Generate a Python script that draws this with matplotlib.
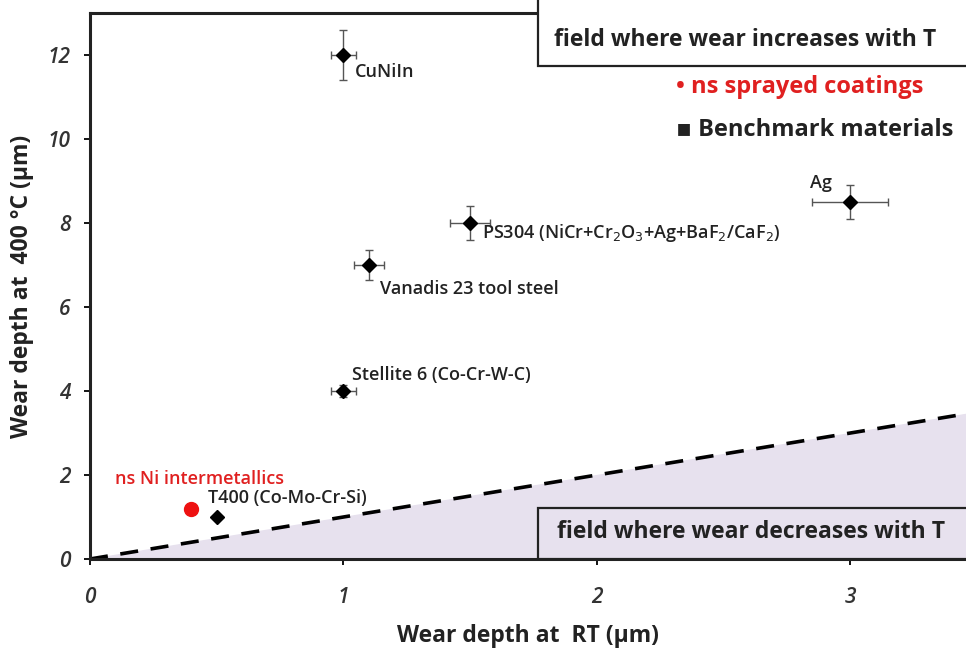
import numpy as np
import matplotlib.pyplot as plt
from matplotlib.patches import Rectangle

plt.rcParams['font.family'] = ['Open Sans', 'DejaVu Sans']

# Benchmark materials: wear depth at RT vs at 400 C (um)
names = ['CuNiIn', 'PS304 (NiCr+Cr$_2$O$_3$+Ag+BaF$_2$/CaF$_2$)', 'Ag',
         'Vanadis 23 tool steel', 'Stellite 6 (Co-Cr-W-C)', 'T400 (Co-Mo-Cr-Si)']
x_rt = [1.0, 1.5, 3.0, 1.1, 1.0, 0.5]
y_hot = [12.0, 8.0, 8.5, 7.0, 4.0, 1.0]
x_err = [0.05, 0.08, 0.15, 0.06, 0.05, 0.0]
y_err = [0.6, 0.4, 0.4, 0.35, 0.15, 0.0]

# ns sprayed coating
coat_name = 'ns Ni intermetallics'
coat_x = [0.4]
coat_y = [1.2]

W, H = 966, 650
fig = plt.figure(figsize=(W / 100, H / 100), dpi=100)
ax = fig.add_axes([90 / W, (H - 559) / H, 876 / W, 546 / H])
ax.set_xlim(0, 3.456)
ax.set_ylim(0, 13)

# equal-wear line and the region below it
xl = np.array([0, 3.456])
ax.fill_between(xl, 0, xl, color='#e7e1ee', zorder=0)
ax.plot(xl, xl, color='black', lw=2.6, ls=(0, (5, 3.5)), zorder=1)

ax.errorbar(x_rt, y_hot, xerr=x_err, yerr=y_err, fmt='D', color='black',
            ms=7.5, ecolor='#555555', elinewidth=1, capsize=3, capthick=1, zorder=3)
ax.plot(coat_x, coat_y, 'o', color='#ee1111', ms=10, zorder=3)

# point labels, offsets in points
offsets = [(8.5, -12), (8.5, -7), (-13, 13.5), (8, -17), (6.5, 11.5), (-6.5, 13.5)]
aligns = ['left', 'left', 'right', 'left', 'left', 'left']
for n, xv, yv, off, ha in zip(names, x_rt, y_hot, offsets, aligns):
    ax.annotate(n, (xv, yv), xytext=off, textcoords='offset points',
                ha=ha, va='center', fontsize=13, fontweight='semibold',
                color='#222222')
ax.annotate(coat_name, (coat_x[0], coat_y[0]), xytext=(-55, 21),
            textcoords='offset points', ha='left', va='center', fontsize=13,
            fontweight='semibold', color='#e02020')

# field boxes (axes fraction)
bx = (538 - 90) / 876
ax.add_patch(Rectangle((bx, (559 - 66) / 546), 1.0, 0.2, transform=ax.transAxes,
                       facecolor='white', edgecolor='#222222', lw=1.6,
                       clip_on=False, zorder=4))
ax.text((745 - 90) / 876, (559 - 40) / 546, 'field where wear increases with T',
        transform=ax.transAxes, ha='center', va='center', fontsize=16.5,
        fontweight='bold', color='#222222', zorder=5)
ax.add_patch(Rectangle((bx, 0.0), 1.0, (559 - 508) / 546, transform=ax.transAxes,
                       facecolor='#e7e1ee', edgecolor='#222222', lw=1.6,
                       clip_on=False, zorder=4))
ax.text((751 - 90) / 876, (559 - 532) / 546, 'field where wear decreases with T',
        transform=ax.transAxes, ha='center', va='center', fontsize=16.5,
        fontweight='bold', color='#222222', zorder=5)
ax.set_clip_on(True)

# legend text
ax.text((676 - 90) / 876, (559 - 87) / 546, '• ns sprayed coatings',
        transform=ax.transAxes, fontsize=17, fontweight='bold',
        color='#e02020', va='center')
ax.text((676 - 90) / 876, (559 - 130) / 546, '▪ Benchmark materials',
        transform=ax.transAxes, fontsize=17, fontweight='bold',
        color='#222222', va='center')

ax.set_xticks([0, 1, 2, 3])
ax.set_yticks(range(0, 13, 2))
ax.tick_params(direction='out', length=4, width=1.3, labelsize=15)
ax.tick_params(axis='y', pad=10)
ax.tick_params(axis='x', pad=16)
for lab in ax.get_xticklabels() + ax.get_yticklabels():
    lab.set_fontstyle('italic')
    lab.set_fontweight('semibold')
    lab.set_color('#333333')

for s in ['left', 'bottom', 'top']:
    ax.spines[s].set_linewidth(2.2)
    ax.spines[s].set_color('#222222')
ax.spines['right'].set_visible(False)

ax.set_xlabel('Wear depth at  RT (µm)', fontsize=16.5, fontweight='bold',
              color='#222222', labelpad=12)
ax.set_ylabel('Wear depth at  400 °C (µm)', fontsize=16.5, fontweight='bold',
              color='#222222', labelpad=10)

fig.savefig('out.png', dpi=100)
